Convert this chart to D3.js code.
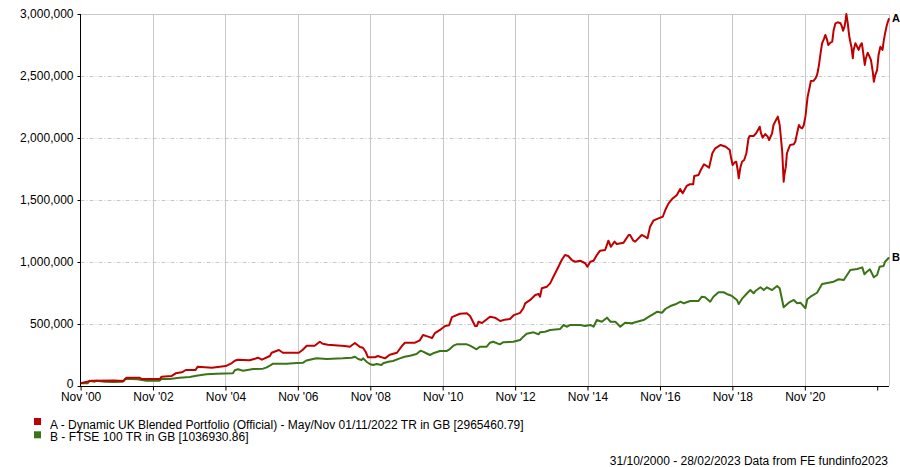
<!DOCTYPE html>
<html>
<head>
<meta charset="utf-8">
<script src="https://cdn.jsdelivr.net/npm/d3@7"></script>
<style>
  html, body { margin: 0; padding: 0; background: #fff; }
  svg { display: block; }
  text { font-family: "Liberation Sans", Arial, sans-serif; fill: #000; }
</style>
</head>
<body>
<svg id="chart" width="900" height="467"></svg>
<script>
// ---- Data (dates as decimal years, values in GBP) ----
const seriesAYears = [2000.83,2001.14,2001.77,2002.02,2002.10,2002.46,2002.52,2003.02,2003.07,2003.35,2003.46,2003.63,2003.74,2004.01,2004.07,2004.46,2004.84,2005.01,2005.09,2005.17,2005.50,2005.67,2005.73,2005.84,2006.06,2006.11,2006.31,2006.42,2006.86,2006.97,2007.08,2007.30,2007.44,2007.52,2007.66,2008.13,2008.27,2008.41,2008.55,2008.63,2008.71,2008.77,2008.96,2009.04,2009.24,2009.37,2009.57,2009.71,2009.79,2010.07,2010.20,2010.29,2010.43,2010.54,2010.62,2010.76,2010.90,2011.01,2011.09,2011.31,2011.50,2011.59,2011.73,2011.78,2011.82,2011.92,2012.14,2012.28,2012.42,2012.55,2012.69,2012.80,2012.97,2013.06,2013.11,2013.25,2013.39,2013.48,2013.52,2013.57,2013.71,2013.80,2013.89,2014.03,2014.12,2014.21,2014.30,2014.40,2014.49,2014.63,2014.77,2014.83,2014.91,2015.00,2015.09,2015.18,2015.32,2015.41,2015.48,2015.58,2015.64,2015.83,2015.97,2016.01,2016.10,2016.15,2016.33,2016.42,2016.49,2016.56,2016.65,2016.79,2016.91,2016.98,2017.07,2017.16,2017.30,2017.39,2017.46,2017.57,2017.66,2017.75,2017.78,2017.90,2017.96,2018.05,2018.19,2018.28,2018.36,2018.51,2018.65,2018.76,2018.80,2018.84,2018.89,2018.94,2018.98,2019.01,2019.05,2019.10,2019.16,2019.22,2019.28,2019.31,2019.42,2019.49,2019.59,2019.62,2019.67,2019.74,2019.81,2019.85,2019.93,2019.97,2020.05,2020.09,2020.14,2020.18,2020.21,2020.23,2020.25,2020.27,2020.31,2020.34,2020.39,2020.43,2020.53,2020.57,2020.62,2020.67,2020.71,2020.76,2020.80,2020.85,2020.88,2020.91,2020.96,2021.00,2021.08,2021.13,2021.17,2021.20,2021.23,2021.26,2021.31,2021.36,2021.40,2021.45,2021.48,2021.54,2021.59,2021.63,2021.68,2021.74,2021.82,2021.86,2021.89,2021.93,2021.96,2021.98,2022.02,2022.05,2022.07,2022.12,2022.16,2022.18,2022.23,2022.28,2022.32,2022.37,2022.41,2022.46,2022.49,2022.52,2022.57,2022.62,2022.66,2022.71,2022.74,2022.78,2022.83,2022.87,2022.92,2022.98,2023.01,2023.05,2023.10,2023.16];
const seriesAValues = [22000,43000,44000,40000,67000,67000,56000,56000,75000,81000,102000,110000,129000,129000,156000,148000,161000,185000,204000,212000,207000,222000,228000,212000,242000,268000,290000,268000,268000,293000,325000,325000,357000,341000,333000,323000,317000,347000,314000,309000,274000,231000,231000,242000,223000,252000,268000,323000,349000,349000,368000,411000,398000,387000,427000,452000,484000,490000,556000,583000,586000,564000,484000,484000,518000,508000,559000,551000,524000,535000,540000,572000,590000,627000,667000,694000,734000,742000,720000,788000,801000,828000,881000,962000,1016000,1056000,1048000,1016000,1002000,1010000,990000,962000,1002000,1010000,1056000,1091000,1097000,1172000,1123000,1164000,1145000,1156000,1218000,1218000,1172000,1164000,1218000,1204000,1191000,1285000,1333000,1352000,1365000,1419000,1473000,1506000,1540000,1589000,1554000,1613000,1627000,1627000,1694000,1702000,1742000,1788000,1761000,1877000,1917000,1944000,1930000,1903000,1836000,1782000,1801000,1809000,1742000,1675000,1756000,1809000,1823000,1877000,1998000,2016000,2016000,2038000,2091000,2043000,2002000,2032000,2011000,1984000,2038000,2105000,2151000,2172000,2105000,1984000,1890000,1769000,1648000,1702000,1769000,1877000,1917000,1944000,1949000,1970000,2038000,2105000,2086000,2078000,2099000,2172000,2252000,2333000,2401000,2460000,2462000,2482000,2508000,2548000,2602000,2669000,2764000,2798000,2831000,2790000,2750000,2769000,2777000,2871000,2925000,2933000,2925000,2898000,2865000,2898000,2952000,3000000,2925000,2844000,2804000,2736000,2643000,2710000,2764000,2736000,2710000,2750000,2764000,2656000,2589000,2643000,2688000,2656000,2629000,2535000,2454000,2508000,2548000,2669000,2736000,2710000,2777000,2844000,2911000,2965460];

const seriesBYears = [2000.83,2001.03,2001.08,2001.22,2001.27,2001.50,2001.72,2002.00,2002.07,2002.41,2002.65,2003.02,2003.06,2003.29,2003.57,2003.85,2004.03,2004.31,2004.59,2005.04,2005.09,2005.18,2005.32,2005.60,2005.87,2005.96,2006.06,2006.15,2006.52,2006.80,2006.98,2007.07,2007.35,2007.63,2008.08,2008.32,2008.41,2008.50,2008.59,2008.64,2008.73,2008.82,2008.91,2009.01,2009.14,2009.19,2009.33,2009.46,2009.65,2009.78,2009.93,2010.11,2010.22,2010.29,2010.38,2010.48,2010.57,2010.76,2010.94,2011.03,2011.13,2011.22,2011.50,2011.59,2011.77,2011.86,2012.05,2012.14,2012.23,2012.41,2012.50,2012.78,2012.97,2013.06,2013.15,2013.34,2013.48,2013.52,2013.66,2013.80,2014.08,2014.17,2014.27,2014.36,2014.63,2014.77,2014.91,2015.00,2015.09,2015.23,2015.37,2015.47,2015.60,2015.74,2015.87,2016.06,2016.20,2016.38,2016.53,2016.66,2016.76,2016.89,2016.98,2017.12,2017.26,2017.40,2017.49,2017.67,2017.90,2017.99,2018.08,2018.22,2018.31,2018.45,2018.59,2018.68,2018.81,2018.96,2019.01,2019.11,2019.24,2019.33,2019.42,2019.47,2019.61,2019.70,2019.79,2019.93,2020.07,2020.14,2020.25,2020.39,2020.53,2020.62,2020.71,2020.85,2020.90,2020.99,2021.17,2021.31,2021.63,2021.77,2021.91,2022.00,2022.09,2022.28,2022.42,2022.48,2022.55,2022.63,2022.74,2022.83,2022.90,2023.01,2023.05,2023.14,2023.16];
const seriesBValues = [22000,22000,43000,35000,43000,35000,32000,35000,59000,54000,43000,43000,56000,56000,67000,73000,83000,94000,99000,102000,127000,135000,123000,137000,140000,148000,164000,180000,180000,186000,188000,206000,223000,218000,223000,228000,236000,218000,210000,223000,196000,177000,169000,177000,169000,183000,196000,202000,223000,236000,244000,258000,285000,277000,264000,250000,264000,282000,282000,298000,325000,336000,336000,325000,296000,317000,317000,349000,357000,336000,352000,357000,371000,398000,422000,433000,417000,433000,438000,452000,460000,492000,478000,492000,492000,484000,492000,478000,532000,518000,551000,518000,518000,478000,510000,506000,518000,532000,559000,581000,599000,591000,621000,645000,659000,680000,667000,686000,686000,720000,715000,680000,720000,756000,756000,742000,728000,694000,661000,707000,748000,774000,748000,766000,796000,774000,796000,774000,807000,788000,635000,672000,694000,667000,672000,627000,699000,720000,752000,823000,841000,861000,855000,895000,936000,944000,957000,901000,922000,941000,877000,895000,962000,968000,1002000,1030000,1036930];

const yTickValues = [0, 500000, 1000000, 1500000, 2000000, 2500000, 3000000];
const xTickYears = [2000,2002,2004,2006,2008,2010,2012,2014,2016,2018,2020,2022];
const xTickLabels = ["Nov '00","Nov '02","Nov '04","Nov '06","Nov '08","Nov '10","Nov '12","Nov '14","Nov '16","Nov '18","Nov '20",""];
const seriesNames = ["A - Dynamic UK Blended Portfolio (Official) - May/Nov 01/11/2022 TR in GB [2965460.79]", "B - FTSE 100 TR in GB [1036930.86]"];
const seriesTags = ["A", "B"];
const seriesColors = ["#c00000", "#3a7416"];
const footerText = "31/10/2000 - 28/02/2023 Data from FE fundinfo2023";

// ---- Helpers ----
function decYearToDate(t) {
  const yr = Math.floor(t);
  const start = new Date(yr, 0, 1).getTime();
  const end = new Date(yr + 1, 0, 1).getTime();
  return new Date(start + (t - yr) * (end - start));
}

const svg = d3.select("#chart");
const pLeft = 80.5, pRight = 889, pTop = 14, pBottom = 386;

const x = d3.scaleTime()
  .domain([new Date(2000, 9, 31), new Date(2023, 1, 28)])
  .range([pLeft, pRight]);
const y = d3.scaleLinear().domain([0, 3000000]).range([pBottom, pTop]);

const grid = svg.append("g");
grid.selectAll("line.h").data(yTickValues.filter(v => v > 0 && v < 3000000)).enter()
  .append("line")
  .attr("x1", pLeft).attr("x2", pRight)
  .attr("y1", d => Math.round(y(d)) + 0.5).attr("y2", d => Math.round(y(d)) + 0.5)
  .attr("stroke", "#c8c8c8").attr("stroke-width", 1)
  .attr("stroke-dasharray", "4,2,1,2");
const novDates = xTickYears.map(yy => new Date(yy, 10, 1));
grid.selectAll("line.v").data(novDates.slice(1, novDates.length - 1)).enter()
  .append("line")
  .attr("x1", d => Math.round(x(d)) + 0.5).attr("x2", d => Math.round(x(d)) + 0.5)
  .attr("y1", pTop).attr("y2", pBottom)
  .attr("stroke", "#c8c8c8").attr("stroke-width", 1);
grid.append("line").attr("x1", pLeft).attr("x2", pRight + 0.5)
  .attr("y1", Math.round(pTop) + 0.5).attr("y2", Math.round(pTop) + 0.5)
  .attr("stroke", "#c8c8c8");
grid.append("line").attr("x1", Math.round(pRight) + 0.5).attr("x2", Math.round(pRight) + 0.5)
  .attr("y1", pTop).attr("y2", pBottom)
  .attr("stroke", "#c8c8c8");

// ---- Lines ----
const line = d3.line().x(d => x(d[0])).y(d => y(d[1]));
const seriesData = [
  seriesAYears.map((t, i) => [decYearToDate(t), seriesAValues[i]]),
  seriesBYears.map((t, i) => [decYearToDate(t), seriesBValues[i]])
];
[1, 0].forEach(k => {
  svg.append("path")
    .datum(seriesData[k])
    .attr("fill", "none")
    .attr("stroke", seriesColors[k])
    .attr("stroke-width", 2)
    .attr("stroke-linejoin", "round")
    .attr("d", line);
});

// ---- Axes ----
const yAxis = d3.axisLeft(y).tickValues(yTickValues).tickSize(3).tickPadding(4)
  .tickFormat(d3.format(","));
const gy = svg.append("g").attr("transform", "translate(80.5,0)").call(yAxis);
gy.select(".domain").attr("stroke", "#000").attr("d", `M0,${pTop}V${pBottom}`);
gy.selectAll("text").style("font-size", "12px").attr("fill", "#000");
// nudge the "0" label up slightly so it clears the first date label
gy.selectAll(".tick").filter(d => d === 0).select("text").attr("dy", "0.1em");

const xAxis = d3.axisBottom(x).tickValues(novDates).tickSize(4).tickPadding(1.5)
  .tickFormat((d, i) => xTickLabels[i]);
const gx = svg.append("g").attr("transform", `translate(0,${pBottom + 0.5})`).call(xAxis);
gx.select(".domain").attr("stroke", "#000").attr("d", `M${pLeft - 0.5},0H${pRight}`);
gx.selectAll("text").style("font-size", "12px").attr("fill", "#000");

// ---- End labels ----
seriesData.forEach((s, k) => {
  const last = s[s.length - 1];
  svg.append("text")
    .attr("x", 892)
    .attr("y", y(last[1]))
    .attr("dy", "0.35em")
    .style("font-size", "11px")
    .style("font-weight", "bold")
    .text(seriesTags[k]);
});

// ---- Legend ----
const legend = svg.append("g");
seriesNames.forEach((name, k) => {
  legend.append("rect")
    .attr("x", 34).attr("y", 418 + k * 13.3)
    .attr("width", 7).attr("height", 7)
    .attr("fill", seriesColors[k]);
  legend.append("text")
    .attr("x", 50).attr("y", 428.5 + k * 12.5)
    .style("font-size", "12px")
    .text(name);
});

svg.append("text")
  .attr("x", 888).attr("y", 465)
  .attr("text-anchor", "end")
  .style("font-size", "12px")
  .text(footerText);
</script>
</body>
</html>
